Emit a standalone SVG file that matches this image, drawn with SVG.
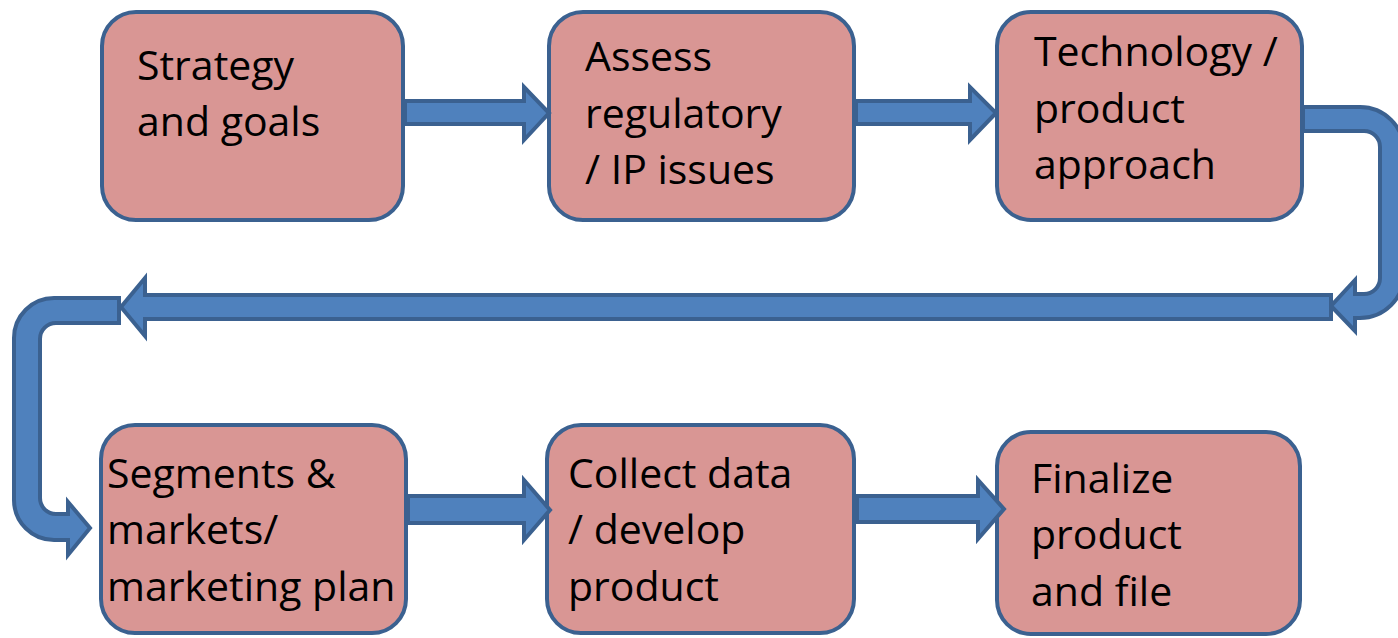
<svg xmlns="http://www.w3.org/2000/svg" width="1398" height="638" viewBox="0 0 1398 638">
<style>
.box{fill:#d99694;stroke:#3b6190;stroke-width:4}
.arr{fill:#4f81bd;stroke:#3b6190;stroke-width:4;stroke-linejoin:miter}
.t{font-family:"Open Sans","Liberation Sans",sans-serif;font-size:41px;fill:#000}
</style>
<rect width="1398" height="638" fill="#ffffff"/>
<g id="nodes">
<g id="n1"><rect class="box" x="102" y="12" width="301" height="208" rx="34"/>
<text class="t"><tspan x="137" y="80">Strategy</tspan><tspan x="137" y="136">and goals</tspan></text></g>
<g id="n2"><rect class="box" x="549" y="12" width="305" height="208" rx="34"/>
<text class="t"><tspan x="585" y="71">Assess</tspan><tspan x="585" y="128">regulatory</tspan><tspan x="585" y="184">/ IP issues</tspan></text></g>
<g id="n3"><rect class="box" x="997" y="12" width="305" height="208" rx="34"/>
<text class="t"><tspan x="1034" y="66">Technology /</tspan><tspan x="1034" y="123">product</tspan><tspan x="1034" y="179">approach</tspan></text></g>
<g id="n4"><rect class="box" x="101" y="425" width="305" height="208" rx="34"/>
<text class="t"><tspan x="107" y="488">Segments &amp;</tspan><tspan x="107" y="544">markets/</tspan><tspan x="107" y="601">marketing plan</tspan></text></g>
<g id="n5"><rect class="box" x="547" y="425" width="307" height="208" rx="34"/>
<text class="t"><tspan x="568" y="488">Collect data</tspan><tspan x="568" y="544">/ develop</tspan><tspan x="568" y="601">product</tspan></text></g>
<g id="n6"><rect class="box" x="997" y="432" width="303" height="202" rx="34"/>
<text class="t"><tspan x="1031" y="493">Finalize</tspan><tspan x="1031" y="549">product</tspan><tspan x="1031" y="606">and file</tspan></text></g>
</g>
<g id="connectors">
<path class="arr" d="M405,101 H524 V87 L549,113 L524,140 V124 H405 Z"/>
<path class="arr" d="M856,101 H970 V87 L996,113 L970,140 V124 H856 Z"/>
<path class="arr" d="M1303,107 H1360 A44,44 0 0 1 1404,151 V274 A44,44 0 0 1 1360,318 H1355 V331 L1331,306 L1355,280 V294 H1364 A16,16 0 0 0 1380,278 V147 A16,16 0 0 0 1364,131 H1303 Z"/>
<path class="arr" d="M1331,295 H145 V278 L121,307 L145,336 V319 H1331 Z"/>
<path class="arr" d="M119,298 H54 A40,40 0 0 0 14,338 V500 A40,40 0 0 0 54,540 H68 V555 L90,528 L68,502 V514 H56 A16,16 0 0 1 40,498 V339 A16,16 0 0 1 56,323 H119 Z"/>
<path class="arr" d="M408,496 H524 V480 L550,510 L524,540 V523 H408 Z"/>
<path class="arr" d="M857,496 H978 V480 L1004,509 L978,539 V522 H857 Z"/>
</g>
</svg>
